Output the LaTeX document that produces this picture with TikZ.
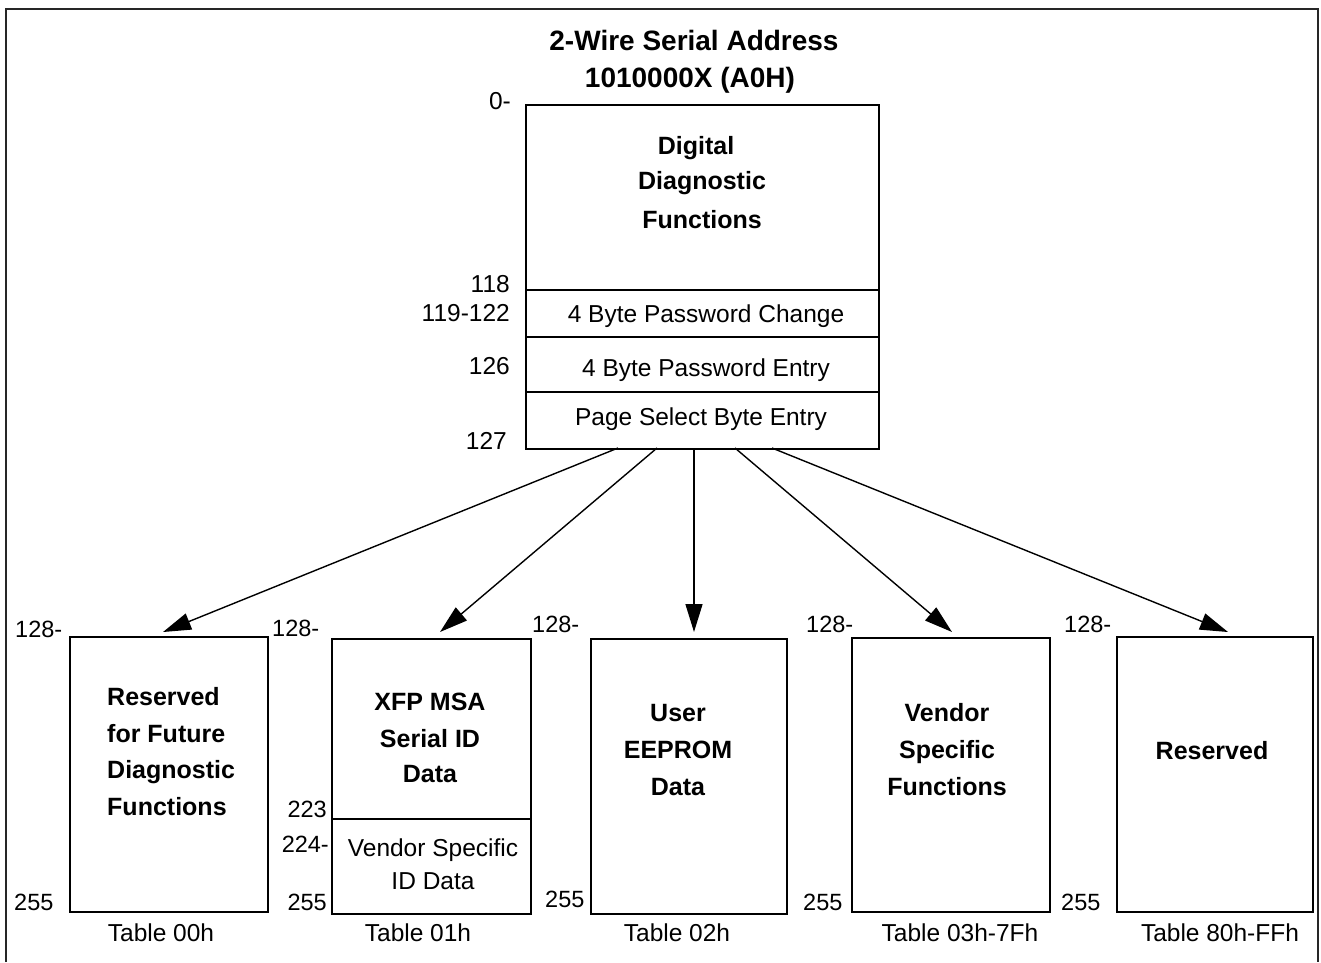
\documentclass[tikz,border=0pt]{standalone}
\usepackage{fontspec}
\setmainfont{Liberation Sans}
\usetikzlibrary{arrows.meta}
\begin{document}
\begin{tikzpicture}[x=1pt,y=-1pt,
  boxln/.style={draw=black, line width=1.8pt, inner sep=0pt, anchor=north west},
  reg/.style={font=\fontsize{24.5}{33}\selectfont, inner sep=0pt},
  num/.style={font=\fontsize{23.5}{28}\selectfont, inner sep=0pt},
  bld/.style={font=\fontsize{25}{37}\selectfont\bfseries, inner sep=0pt, align=center},
  ttl/.style={font=\fontsize{28}{37}\selectfont\bfseries, inner sep=0pt},
  conn/.style={line width=1.4pt, -{Triangle[length=28pt,width=17pt]}}
]
\useasboundingbox (0,0) rectangle (1321,962);
\draw[line width=2pt, draw=black!85] (6,962) -- (6,9) -- (1318,9) -- (1318,962);

% title
\node[ttl, anchor=base] (t1) at (694,50) {2-Wire Serial Address};
\node[ttl, anchor=base] (t2) at (690,87) {1010000X (A0H)};

% main box
\node[boxln, minimum width=353pt, minimum height=344pt] (main) at (525,104) {};
\draw[line width=1.8pt] (525,290) -- (878,290);
\draw[line width=1.8pt] (525,337) -- (878,337);
\draw[line width=1.8pt] (525,392) -- (878,392);
\node[bld, anchor=base, font=\fontsize{25}{35}\selectfont\bfseries] (ddf) at (702,228) {\hspace*{-12pt}Digital\\Diagnostic\\[4pt]Functions};
\node[reg, anchor=base] (pwc) at (706,322) {4 Byte Password Change};
\node[reg, anchor=base] (pwe) at (706,376) {4 Byte Password Entry};
\node[reg, anchor=base] (psb) at (701,425) {Page Select Byte Entry};

\node[reg, anchor=base east] (a0) at (511,109) {0-};
\node[reg, anchor=base east] (a118) at (510,292) {118};
\node[reg, anchor=base east] (a119) at (510,321) {119-122};
\node[reg, anchor=base east] (a126) at (510,374) {126};
\node[reg, anchor=base east] (a127) at (507,449) {127};

% lower boxes
\node[boxln, minimum width=198pt, minimum height=275pt] (b1) at (69,636) {};
\node[boxln, minimum width=199pt, minimum height=275pt] (b2) at (331,638) {};
\draw[line width=1.8pt] (331,819) -- (530,819);
\node[boxln, minimum width=196pt, minimum height=275pt] (b3) at (590,638) {};
\node[boxln, minimum width=198pt, minimum height=274pt] (b4) at (851,637) {};
\node[boxln, minimum width=196pt, minimum height=275pt] (b5) at (1116,636) {};

% box texts
\node[bld, align=left, anchor=base west] (x1) at (107,815) {Reserved\\for Future\\[-1pt]Diagnostic\\Functions};
\node[bld, anchor=base] (x2) at (430,782) {XFP MSA\\Serial ID\\[-2pt]Data};
\node[reg, align=center, anchor=base] (x2b) at (433,889) {Vendor Specific\\ID Data};
\node[bld, anchor=base] (x3) at (678,795) {User\\EEPROM\\Data};
\node[bld, anchor=base] (x4) at (947,795) {Vendor\\Specific\\Functions};
\node[bld, anchor=base] (x5) at (1212,759) {Reserved};

% address labels
\node[num, anchor=base west] (c1a) at (15,637) {128-};
\node[num, anchor=base west] (c1b) at (14,910) {255};
\node[num, anchor=base west] (c2a) at (272,636) {128-};
\node[num, anchor=base east] (c2b) at (327,817) {223};
\node[num, anchor=base east] (c2c) at (329,852) {224-};
\node[num, anchor=base east] (c2d) at (327,910) {255};
\node[num, anchor=base west] (c3a) at (532,632) {128-};
\node[num, anchor=base west] (c3b) at (545,907) {255};
\node[num, anchor=base west] (c4a) at (806,632) {128-};
\node[num, anchor=base west] (c4b) at (803,910) {255};
\node[num, anchor=base west] (c5a) at (1064,632) {128-};
\node[num, anchor=base west] (c5b) at (1061,910) {255};

% table labels
\node[reg, anchor=base] (tb1) at (161,941) {Table 00h};
\node[reg, anchor=base] (tb2) at (418,941) {Table 01h};
\node[reg, anchor=base] (tb3) at (677,941) {Table 02h};
\node[reg, anchor=base] (tb4) at (960,941) {Table 03h-7Fh};
\node[reg, anchor=base] (tb5) at (1220,941) {Table 80h-FFh};

% arrows
\coordinate (s1) at (618,448);
\coordinate (s2) at (657,448);
\coordinate (s3) at (694,448);
\coordinate (s4) at (735,448);
\coordinate (s5) at (772,448);
\coordinate (e1) at (163,632);
\coordinate (e2) at (440,632);
\coordinate (e3) at (694,632);
\coordinate (e4) at (952,632);
\coordinate (e5) at (1228,632);
\draw[conn] (s1) -- (e1);
\draw[conn] (s2) -- (e2);
\draw[conn] (s3) -- (e3);
\draw[conn] (s4) -- (e4);
\draw[conn] (s5) -- (e5);
\end{tikzpicture}
\end{document}
